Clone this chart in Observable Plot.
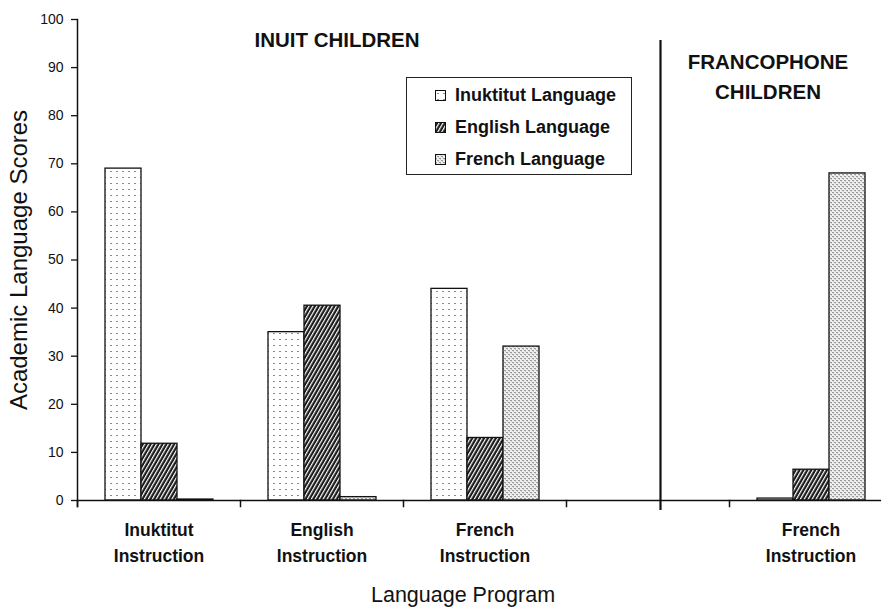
<!DOCTYPE html>
<html><head><meta charset="utf-8">
<script src="https://cdn.jsdelivr.net/npm/d3@7"></script>
<script src="https://cdn.jsdelivr.net/npm/@observablehq/plot@0.6"></script>
<style>
html,body{margin:0;padding:0;background:#fff;overflow:hidden;}
#wrap{position:relative;width:881px;height:607px;}
#legend{position:absolute;left:406px;top:77px;width:226px;height:98px;border:1.5px solid #222;box-sizing:border-box;background:#fff;
  font-family:"Liberation Sans",Arial,sans-serif;font-weight:bold;font-size:18px;color:#111;}
#legend .row{position:absolute;left:28px;height:22px;display:flex;align-items:center;white-space:nowrap;}
#legend .row svg{margin-right:9px;display:block;}
</style></head><body>
<svg width="0" height="0" style="position:absolute">
  <defs>
    <pattern id="pInuk" width="6" height="6" patternUnits="userSpaceOnUse">
      <rect width="6" height="6" fill="#fff"/>
      <rect x="2" y="3" width="2" height="1" fill="#8a8a8a"/>
    </pattern>
    <pattern id="pEng" width="3.4" height="3.4" patternUnits="userSpaceOnUse" patternTransform="rotate(30)">
      <rect width="3.4" height="3.4" fill="#1a1a1a"/>
      <rect width="1.2" height="3.4" fill="#fff"/>
    </pattern>
    <pattern id="pFr" width="4" height="4" patternUnits="userSpaceOnUse">
      <rect width="4" height="4" fill="#efefef"/>
      <rect x="0" y="0" width="2" height="1" fill="#9a9a9a"/>
      <rect x="2" y="2" width="2" height="1" fill="#9a9a9a"/>
      <rect x="1" y="1" width="1" height="1" fill="#c8c8c8"/>
      <rect x="3" y="3" width="1" height="1" fill="#c8c8c8"/>
    </pattern>
  </defs>
</svg>
<div id="wrap">
  <div id="legend"></div>
</div>
<script>
// ---- data ----
const groupKeys = ["inuk", "eng", "fr", "gap", "franco"];
const groupLabels = ["Inuktitut\nInstruction", "English\nInstruction", "French\nInstruction", "", "French\nInstruction"];
const languages = ["Inuktitut Language", "English Language", "French Language"];
const inuktitutScores = [69, 35, 44, null, 0.4];
const englishScores = [11.8, 40.5, 13, null, 6.4];
const frenchScores = [0.2, 0.7, 32, null, 68];
const yTicks = [0, 10, 20, 30, 40, 50, 60, 70, 80, 90, 100];
const patternFills = ["url(#pInuk)", "url(#pEng)", "url(#pFr)"];
const yTitle = "Academic Language Scores";
const xTitle = "Language Program";
const inuitTitle = "INUIT CHILDREN";
const francoTitle = "FRANCOPHONE\nCHILDREN";

const series = [inuktitutScores, englishScores, frenchScores];
const rows = [];
groupKeys.forEach((g, i) => {
  languages.forEach((lang, j) => {
    const v = series[j][i];
    if (v != null) rows.push({group: g, lang, value: v});
  });
});
const groupRows = groupKeys.map((k, i) => ({key: k, label: groupLabels[i]}));

const FONT = '"Liberation Sans", Arial, sans-serif';

const chart = Plot.plot({
  width: 881, height: 607,
  marginTop: 19, marginBottom: 107, marginLeft: 77, marginRight: -11,
  style: {fontFamily: FONT, fontSize: "14px", color: "#111", background: "transparent", overflow: "visible"},
  fx: {domain: groupKeys, padding: 0, axis: null},
  x: {domain: languages, paddingInner: 0, paddingOuter: 0.73, axis: null},
  y: {domain: [0, 100]},
  color: {domain: languages, range: patternFills},
  marks: [
    Plot.frame({anchor: "left", facetAnchor: "left", insetBottom: -6, stroke: "#111", strokeWidth: 1.5}),
    Plot.frame({anchor: "left", insetTop: 481, insetBottom: -6, stroke: "#111", strokeWidth: 1.5}),
    Plot.axisY(yTicks, {tickSize: 6, tickPadding: 8, label: null, stroke: "#111", strokeWidth: 1.3, fontSize: 14}),
    Plot.barY(rows, {fx: "group", x: "lang", y: "value", fill: "lang", stroke: "#111", strokeWidth: 1.3}),
    Plot.ruleY([0], {stroke: "#111", strokeWidth: 1.5}),
    Plot.ruleX([{g: "gap"}], {fx: "g", x: () => "English Language", dx: 12, insetTop: 21, insetBottom: -10, stroke: "#111", strokeWidth: 2.2}),
    Plot.text(groupRows, {fx: "key", text: "label", frameAnchor: "bottom", lineAnchor: "top", dy: 17, fontSize: 17.5, fontWeight: "bold", lineHeight: 1.5}),
    Plot.text([{g: "eng", t: inuitTitle}], {fx: "g", text: "t", frameAnchor: "top", dx: 15, dy: 13, fontSize: 20.5, fontWeight: "bold", letterSpacing: 0.5}),
    Plot.text([{g: "franco", t: francoTitle}], {fx: "g", text: "t", frameAnchor: "top", dx: -43, dy: 28.5, fontSize: 20.5, fontWeight: "bold", lineHeight: 1.46}),
    Plot.text([{g: "inuk", t: yTitle}], {fx: "g", text: "t", frameAnchor: "left", textAnchor: "middle", rotate: -90, dx: -58, fontSize: 24}),
    Plot.text([{g: "fr", t: xTitle}], {fx: "g", text: "t", frameAnchor: "bottom", dx: -22, dy: 101, fontSize: 21.5})
  ]
});
document.getElementById("wrap").prepend(chart);

// legend
const legend = document.getElementById("legend");
const rowTops = [6, 38, 70];
languages.forEach((lang, i) => {
  const row = document.createElement("div");
  row.className = "row";
  row.style.top = rowTops[i] + "px";
  row.innerHTML = `<svg width="11" height="11"><rect x="0.5" y="0.5" width="10" height="10" fill="${patternFills[i]}" stroke="#111" stroke-width="1"/></svg><span>${lang}</span>`;
  legend.appendChild(row);
});
</script>
</body></html>
